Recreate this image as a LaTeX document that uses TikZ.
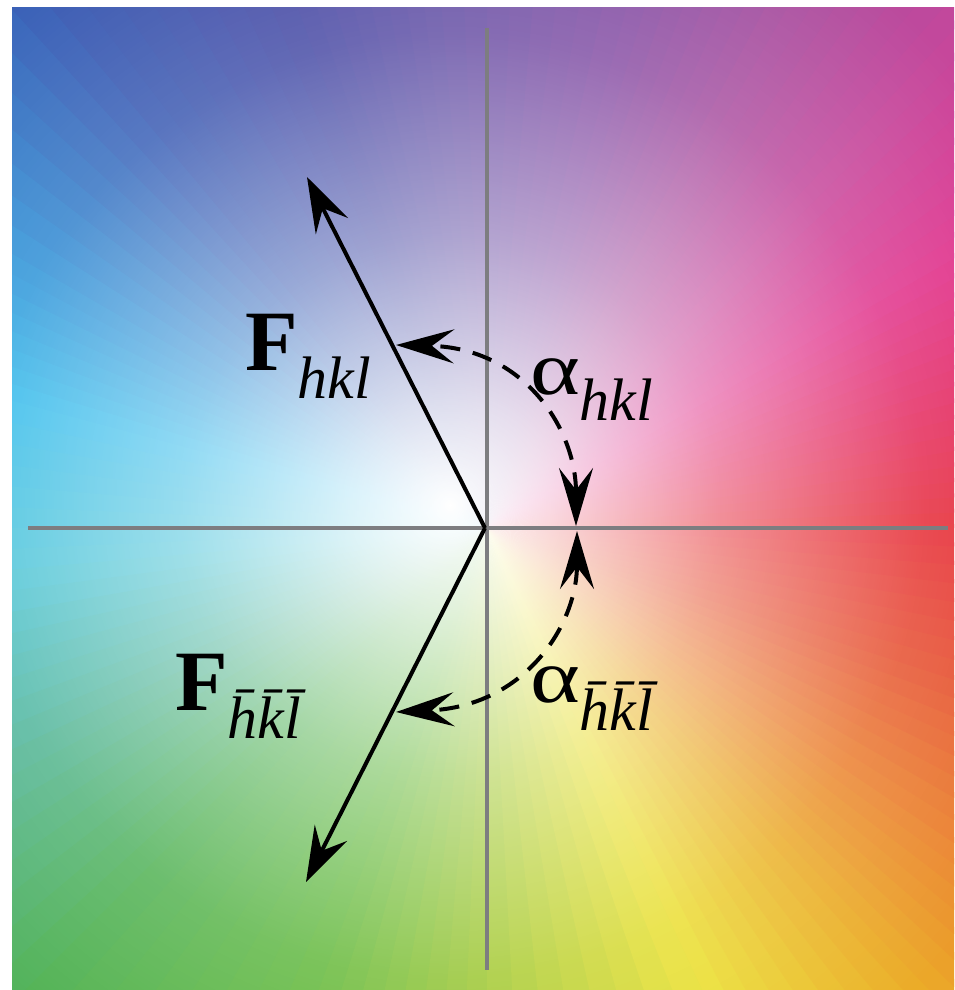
\documentclass[tikz,border=0pt]{standalone}
\usepackage{fontspec}
\setmainfont{Liberation Serif}[BoldFont={Liberation Serif Bold}, ItalicFont={Liberation Serif Italic}, BoldItalicFont={Liberation Serif Bold Italic}]
\usepackage{graphicx}
\usetikzlibrary{arrows.meta,fadings}
\definecolor{axisgray}{RGB}{125,125,128}
\definecolor{k0}{RGB}{230,40,50}
\definecolor{k1}{RGB}{228,40,95}
\definecolor{k2}{RGB}{225,50,140}
\definecolor{k3}{RGB}{200,70,155}
\definecolor{k4}{RGB}{170,80,160}
\definecolor{k5}{RGB}{135,80,165}
\definecolor{k6}{RGB}{100,80,165}
\definecolor{k7}{RGB}{72,75,165}
\definecolor{k8}{RGB}{58,92,180}
\definecolor{k9}{RGB}{45,145,215}
\definecolor{k10}{RGB}{45,185,235}
\definecolor{k11}{RGB}{70,195,215}
\definecolor{k12}{RGB}{80,180,150}
\definecolor{k13}{RGB}{80,178,85}
\definecolor{k14}{RGB}{100,185,60}
\definecolor{k15}{RGB}{160,200,50}
\definecolor{k16}{RGB}{235,225,50}
\definecolor{k17}{RGB}{235,175,40}
\definecolor{k18}{RGB}{235,130,45}
\definecolor{k19}{RGB}{230,80,45}
\pgfdeclareradialshading{wfsh}{\pgfpointorigin}{color(0bp)=(white); color(3bp)=(white!82!black); color(8bp)=(white!48!black); color(14bp)=(white!16!black); color(20bp)=(black); color(50bp)=(black)}
\pgfdeclarefading{wf}{\pgfuseshading{wfsh}}
\tikzset{
  axisline/.style={draw=axisgray, line width=4pt},
  vecline/.style={draw=black, line width=4pt, -{Stealth[length=55pt,width=36pt,inset=20pt]}},
  phaseline/.style={draw=black, line width=4pt, dash pattern=on 20pt off 13pt,
     {Stealth[length=58pt,width=34pt,inset=22pt]}-{Stealth[length=58pt,width=34pt,inset=22pt]}},
  lab/.style={inner sep=0pt, anchor=base west, text=black}
}
\begin{document}
\begin{tikzpicture}[x=1pt,y=-1pt]
\fill[white] (0,0) rectangle (954,990);
\begin{scope}
  \clip (12,8) rectangle (954,990);
  \begin{scope}[shift={(487,528)}]
    \foreach \a/\b/\ca/\cb in {0/15/k0/k1, 15/30/k1/k2, 30/45/k2/k3, 45/60/k3/k4,
        60/75/k4/k5, 75/95/k5/k6, 95/110/k6/k7, 110/130/k7/k8, 130/150/k8/k9,
        150/165/k9/k10, 165/185/k10/k11, 185/205/k11/k12, 205/225/k12/k13,
        225/250/k13/k14, 250/270/k14/k15, 270/295/k15/k16, 295/312/k16/k17,
        312/326/k17/k18, 326/342/k18/k19, 342/360/k19/k0}{
      \foreach \t in {0,...,7}{
        \pgfmathsetmacro\s{\a+(\b-\a)*\t/8}
        \pgfmathsetmacro\e{\a+(\b-\a)*(\t+1)/8+0.5}
        \pgfmathtruncatemacro\p{100-(\t+0.5)*100/8}
        \fill[\ca!\p!\cb] (0,0) -- (-\s:1500) -- (-\e:1500) -- cycle;
      }
    }
  \end{scope}
  \fill[white, path fading=wf] (450,505) circle (840);
\end{scope}

% axes
\coordinate (VT) at (487,28);
\coordinate (VB) at (487,970);
\coordinate (HL) at (28,528);
\coordinate (HR) at (948,528);
\draw[axisline] (VT) -- (VB);
\draw[axisline] (HL) -- (HR);

% vectors
\coordinate (O) at (485,528);
\coordinate (Ftip) at (307,177);
\coordinate (Fbtip) at (306,882);
\draw[vecline] (O) -- (Ftip);
\draw[vecline] (O) -- (Fbtip);

% phase arcs
\coordinate (A1) at (576,526);
\coordinate (B1) at (396,345);
\coordinate (A2) at (577,531);
\coordinate (B2) at (396,712);
\draw[phaseline] (A1) .. controls (576,430) and (525,348) .. (B1);
\draw[phaseline] (A2) .. controls (577,625) and (525,706) .. (B2);

% labels
\node[lab] (Fh) at (245,370) {{\fontsize{86}{86}\selectfont\bfseries F}\raisebox{-28pt}{\fontsize{60}{60}\selectfont\itshape hkl}};
\node[lab] (Fb) at (175,710) {{\fontsize{86}{86}\selectfont\bfseries F}\raisebox{-28pt}{\fontsize{60}{60}\selectfont\itshape \=h\=k\=l}};
\node[lab] (ah) at (530,394) {\scalebox{1.25}[1]{\fontsize{76}{76}\selectfont α}\raisebox{-26pt}{\fontsize{60}{60}\selectfont\itshape hkl}};
\node[lab] (ab) at (530,702) {\scalebox{1.25}[1]{\fontsize{76}{76}\selectfont α}\raisebox{-28pt}{\fontsize{60}{60}\selectfont\itshape \=h\=k\=l}};
\end{tikzpicture}
\end{document}
